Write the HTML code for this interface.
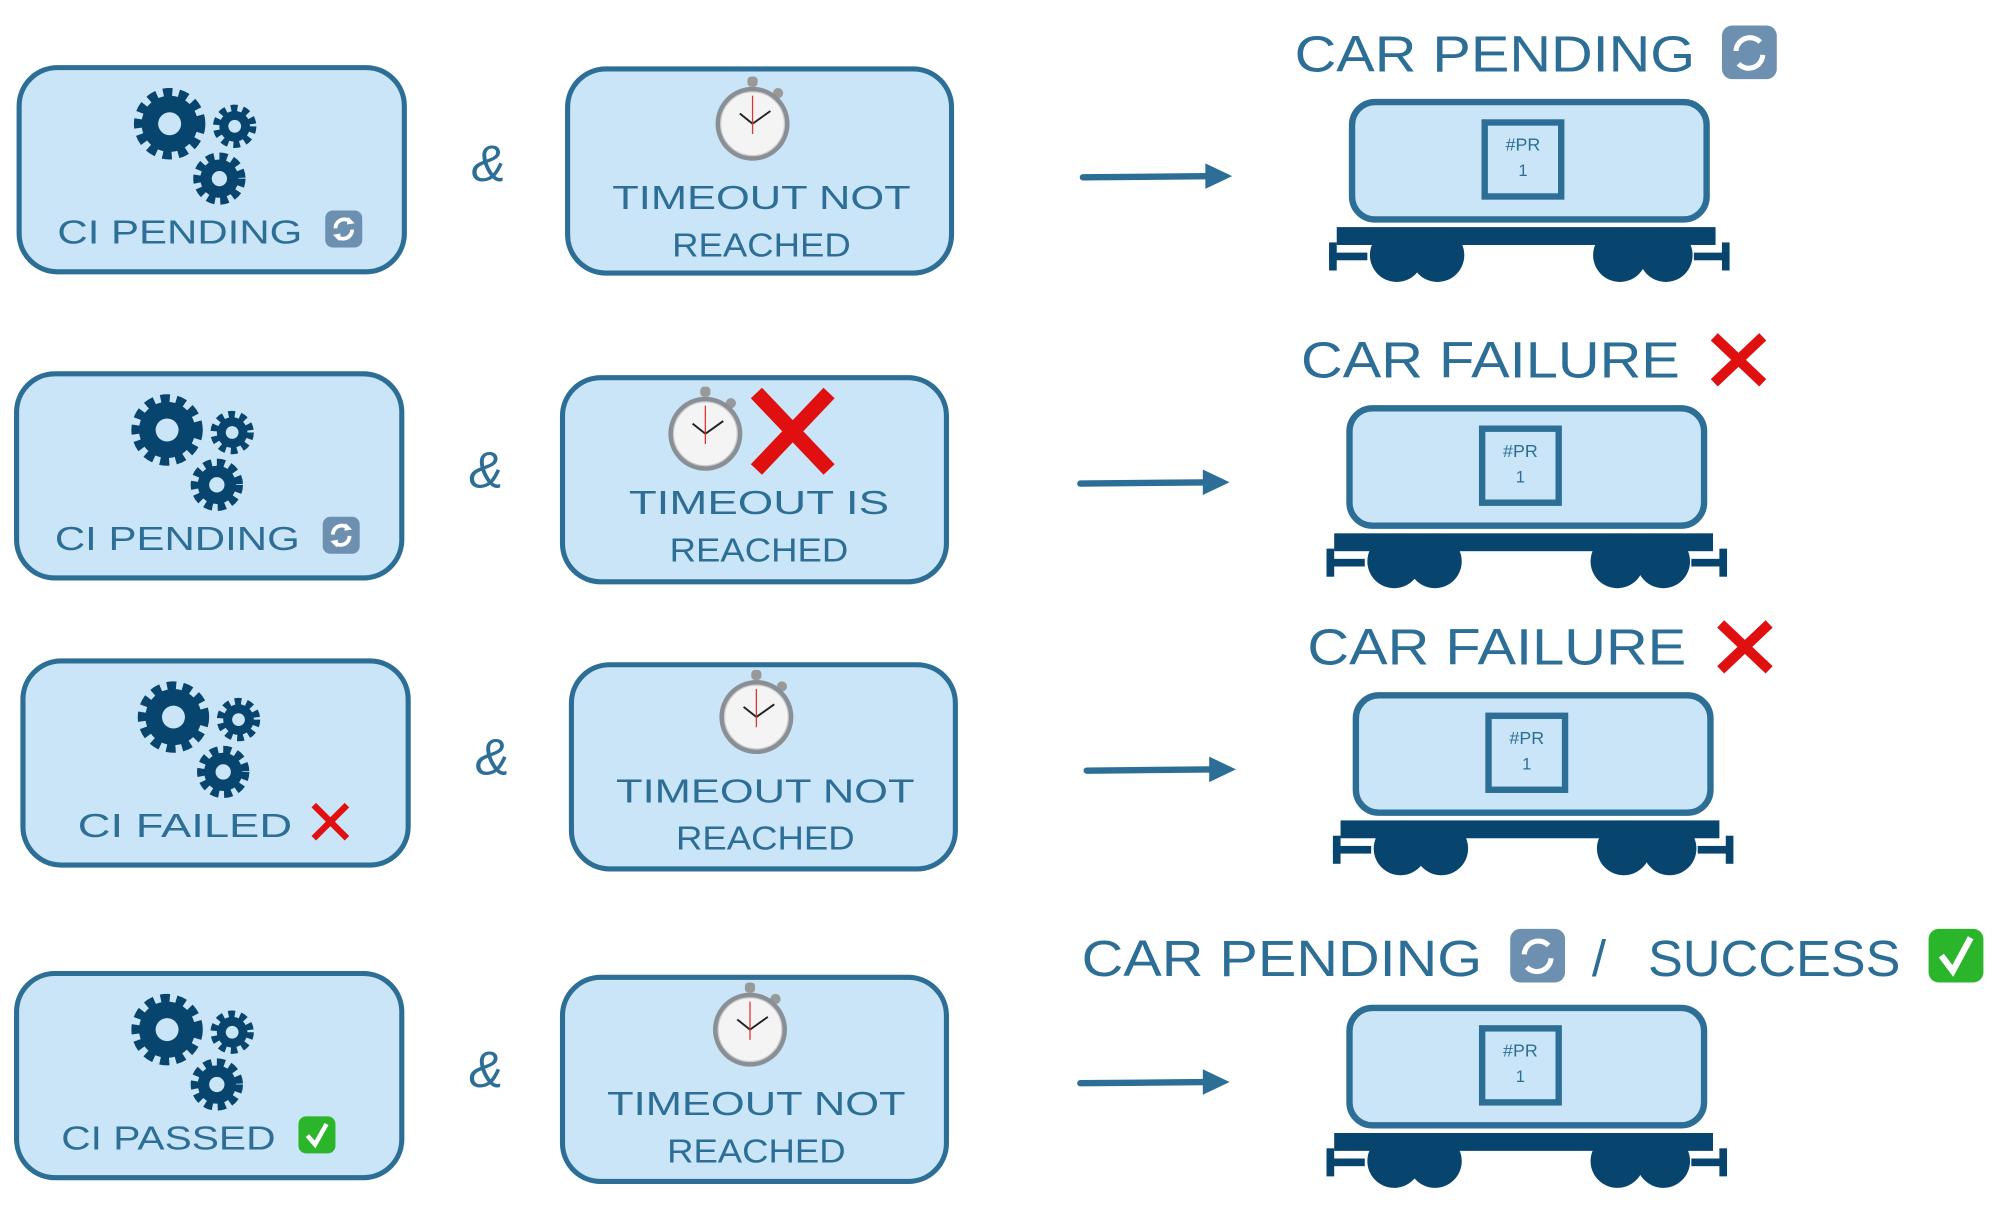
<!DOCTYPE html>
<html><head><meta charset="utf-8"><style>
html,body{margin:0;padding:0;background:#fff;}
svg{display:block;}
text{font-family:"Liberation Sans",sans-serif;fill:#2c6e96;font-weight:normal;}
</style></head><body>
<svg width="2000" height="1207" viewBox="0 0 1568 946" preserveAspectRatio="none" xmlns="http://www.w3.org/2000/svg">
<defs>
<g id="gears">
  <circle cx="0" cy="0" r="24" fill="none" stroke="#07446e" stroke-width="8" stroke-dasharray="7 5"/>
  <circle cx="0" cy="0" r="22" fill="#07446e"/>
  <circle cx="0" cy="0" r="9" fill="#c9e5f7"/>
  <circle cx="51" cy="2" r="14" fill="none" stroke="#07446e" stroke-width="6" stroke-dasharray="5 4"/>
  <circle cx="51" cy="2" r="12" fill="#07446e"/>
  <circle cx="51" cy="2" r="5" fill="#c9e5f7"/>
  <circle cx="39" cy="43" r="17" fill="none" stroke="#07446e" stroke-width="7" stroke-dasharray="6 4"/>
  <circle cx="39" cy="43" r="15" fill="#07446e"/>
  <circle cx="39" cy="43" r="6" fill="#c9e5f7"/>
</g>
<g id="watch">
  <rect x="-4" y="-37" width="8" height="8" rx="3" fill="#999"/>
  <circle cx="20" cy="-24" r="4" fill="#999"/>
  <circle cx="0" cy="0" r="29" fill="#8a8f96"/>
  <circle cx="0" cy="0" r="25" fill="#f4f4f4" stroke="#ccc" stroke-width="1"/>
  <line x1="0" y1="0" x2="-10" y2="-8" stroke="#222" stroke-width="1.5"/>
  <line x1="0" y1="0" x2="14" y2="-10" stroke="#222" stroke-width="1.5"/>
  <line x1="0" y1="-22" x2="0" y2="8" stroke="#d33" stroke-width="1"/>
</g>
<g id="refresh">
  <rect x="0" y="0" width="29" height="29" rx="6" fill="#6d8fb0"/>
  <path d="M8 14 a7 7 0 0 1 12 -5" fill="none" stroke="#fff" stroke-width="3"/>
  <path d="M21 15 a7 7 0 0 1 -12 5" fill="none" stroke="#fff" stroke-width="3"/>
  <path d="M18 5 l5 5 l-6 1z M11 24 l-5 -5 l6 -1z" fill="#fff"/>
</g>
<g id="check">
  <rect x="0" y="0" width="29" height="29" rx="6" fill="#2bb52b"/>
  <path d="M7 15 l6 7 l9 -16" fill="none" stroke="#fff" stroke-width="3.5"/>
</g>
<g id="car">
  <rect x="1060" y="80" width="278" height="92" rx="18" fill="#c9e5f7" stroke="#2c6e96" stroke-width="5"/>
  <rect x="1164" y="96" width="60" height="58" fill="#c9e5f7" stroke="#2c6e96" stroke-width="5"/>
  <text x="1194" y="118" font-size="14" text-anchor="middle">#PR</text>
  <text x="1194" y="138" font-size="13" text-anchor="middle">1</text>
  <rect x="1048" y="178" width="297" height="14" fill="#07446e"/>
  <circle cx="1095" cy="200" r="21" fill="#07446e"/>
  <circle cx="1127" cy="200" r="21" fill="#07446e"/>
  <circle cx="1270" cy="200" r="21" fill="#07446e"/>
  <circle cx="1306" cy="200" r="21" fill="#07446e"/>
  <rect x="1090" y="190" width="52" height="12" fill="#07446e"/>
  <rect x="1256" y="190" width="55" height="12" fill="#07446e"/>
  <rect x="1042" y="190" width="6" height="22" fill="#07446e"/>
  <rect x="1350" y="190" width="6" height="22" fill="#07446e"/>
  <rect x="1042" y="198" width="30" height="6" fill="#07446e"/>
  <rect x="1328" y="198" width="26" height="6" fill="#07446e"/>
</g>
</defs>

<!-- Row 1 -->
<rect x="15" y="53" width="302" height="160" rx="30" fill="#c9e5f7" stroke="#2c6e96" stroke-width="4"/>
<use href="#gears" x="133" y="97"/>
<text x="45" y="191" font-size="26" textLength="192" lengthAdjust="spacingAndGlyphs">CI PENDING</text>
<use href="#refresh" x="255" y="165"/>
<text x="383" y="142" font-size="40" text-anchor="middle" font-style="italic">&amp;</text>
<rect x="445" y="54" width="301" height="160" rx="30" fill="#c9e5f7" stroke="#2c6e96" stroke-width="4"/>
<use href="#watch" x="590" y="97"/>
<text x="480" y="164" font-size="26" textLength="234" lengthAdjust="spacingAndGlyphs">TIMEOUT NOT</text>
<text x="527" y="201" font-size="26" textLength="140" lengthAdjust="spacingAndGlyphs">REACHED</text>
<path d="M849 139 L955 138" stroke="#2c6e96" stroke-width="5" stroke-linecap="round"/>
<path d="M945 128 L966 138 L945 148z" fill="#2c6e96"/>
<text x="1015" y="56" font-size="40" textLength="314" lengthAdjust="spacingAndGlyphs">CAR PENDING</text>
<rect x="1350" y="20" width="43" height="42" rx="8" fill="#6d8fb0"/>
<path d="M1361 40 a11 11 0 0 1 19 -7 M1382 43 a11 11 0 0 1 -19 7" fill="none" stroke="#fff" stroke-width="4"/>
<use href="#car"/>

<!-- Row 2 -->
<g transform="translate(-2 240)">
<rect x="15" y="53" width="302" height="160" rx="30" fill="#c9e5f7" stroke="#2c6e96" stroke-width="4"/>
<use href="#gears" x="133" y="97"/>
<text x="45" y="191" font-size="26" textLength="192" lengthAdjust="spacingAndGlyphs">CI PENDING</text>
<use href="#refresh" x="255" y="165"/>
<text x="383" y="142" font-size="40" text-anchor="middle" font-style="italic">&amp;</text>
<rect x="443" y="56" width="301" height="160" rx="30" fill="#c9e5f7" stroke="#2c6e96" stroke-width="4"/>
<use href="#watch" x="555" y="100"/>
<path d="M595 68 L652 128 M652 68 L595 128" stroke="#e01010" stroke-width="12"/>
<text x="495" y="163" font-size="26" textLength="204" lengthAdjust="spacingAndGlyphs">TIMEOUT IS</text>
<text x="527" y="200" font-size="26" textLength="140" lengthAdjust="spacingAndGlyphs">REACHED</text>
<path d="M849 139 L955 138" stroke="#2c6e96" stroke-width="5" stroke-linecap="round"/>
<path d="M945 128 L966 138 L945 148z" fill="#2c6e96"/>
<text x="1022" y="56" font-size="40" textLength="297" lengthAdjust="spacingAndGlyphs">CAR FAILURE</text>
<path d="M1346 24 L1384 60 M1384 24 L1346 60" stroke="#e01010" stroke-width="8"/>
<use href="#car"/>
</g>

<!-- Row 3 -->
<g transform="translate(3 465)">
<rect x="15" y="53" width="302" height="160" rx="30" fill="#c9e5f7" stroke="#2c6e96" stroke-width="4"/>
<use href="#gears" x="133" y="97"/>
<text x="58" y="191" font-size="26" textLength="168" lengthAdjust="spacingAndGlyphs">CI FAILED</text>
<path d="M243 166 L269 192 M269 166 L243 192" stroke="#e01010" stroke-width="5"/>
<text x="383" y="142" font-size="40" text-anchor="middle" font-style="italic">&amp;</text>
<rect x="445" y="56" width="301" height="160" rx="30" fill="#c9e5f7" stroke="#2c6e96" stroke-width="4"/>
<use href="#watch" x="590" y="97"/>
<text x="480" y="164" font-size="26" textLength="234" lengthAdjust="spacingAndGlyphs">TIMEOUT NOT</text>
<text x="527" y="201" font-size="26" textLength="140" lengthAdjust="spacingAndGlyphs">REACHED</text>
<path d="M849 139 L955 138" stroke="#2c6e96" stroke-width="5" stroke-linecap="round"/>
<path d="M945 128 L966 138 L945 148z" fill="#2c6e96"/>
<text x="1022" y="56" font-size="40" textLength="297" lengthAdjust="spacingAndGlyphs">CAR FAILURE</text>
<path d="M1346 24 L1384 60 M1384 24 L1346 60" stroke="#e01010" stroke-width="8"/>
<use href="#car"/>
</g>

<!-- Row 4 -->
<g transform="translate(-2 710)">
<rect x="15" y="53" width="302" height="160" rx="30" fill="#c9e5f7" stroke="#2c6e96" stroke-width="4"/>
<use href="#gears" x="133" y="97"/>
<text x="50" y="191" font-size="26" textLength="168" lengthAdjust="spacingAndGlyphs">CI PASSED</text>
<use href="#check" x="236" y="165"/>
<text x="383" y="142" font-size="40" text-anchor="middle" font-style="italic">&amp;</text>
<rect x="443" y="56" width="301" height="160" rx="30" fill="#c9e5f7" stroke="#2c6e96" stroke-width="4"/>
<use href="#watch" x="590" y="97"/>
<text x="478" y="164" font-size="26" textLength="234" lengthAdjust="spacingAndGlyphs">TIMEOUT NOT</text>
<text x="525" y="201" font-size="26" textLength="140" lengthAdjust="spacingAndGlyphs">REACHED</text>
<path d="M849 139 L955 138" stroke="#2c6e96" stroke-width="5" stroke-linecap="round"/>
<path d="M945 128 L966 138 L945 148z" fill="#2c6e96"/>
<use href="#car"/>
</g>
<text x="848" y="765" font-size="40" textLength="314" lengthAdjust="spacingAndGlyphs">CAR PENDING</text>
<rect x="1184" y="728" width="43" height="42" rx="8" fill="#6d8fb0"/>
<path d="M1195 748 a11 11 0 0 1 19 -7 M1216 751 a11 11 0 0 1 -19 7" fill="none" stroke="#fff" stroke-width="4"/>
<text x="1248" y="765" font-size="40">/</text>
<text x="1292" y="765" font-size="40" textLength="198" lengthAdjust="spacingAndGlyphs">SUCCESS</text>
<rect x="1512" y="728" width="43" height="42" rx="8" fill="#2bb52b"/>
<path d="M1522 749 l9 12 l14 -26" fill="none" stroke="#fff" stroke-width="5"/>
</svg>
</body></html>
